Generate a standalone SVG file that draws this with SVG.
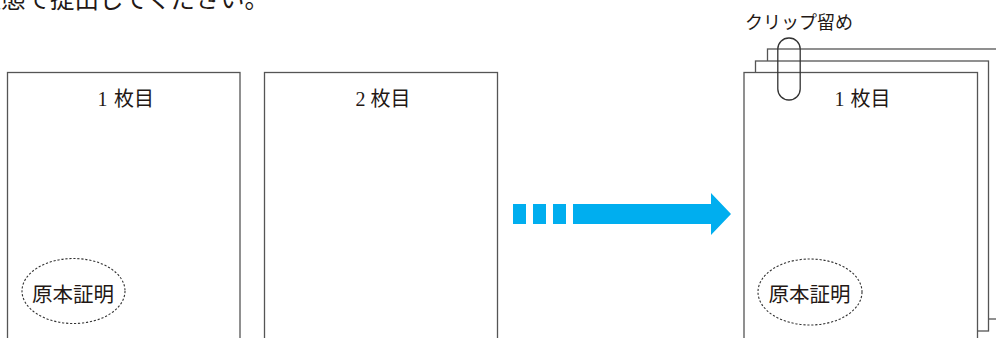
<svg xmlns="http://www.w3.org/2000/svg" width="996" height="338" viewBox="0 0 996 338">
<style>
.page{fill:#fff;stroke:#555;stroke-width:1.3}
.lbl{font-family:"Liberation Serif","Noto Sans CJK JP",serif;font-size:20px;fill:#231815}
.cjk{font-family:"Noto Sans CJK JP",sans-serif}
.stamp{fill:none;stroke:#333;stroke-width:1.1;stroke-dasharray:2.2 1.8}
.stxt{font-family:"Noto Sans CJK JP",sans-serif;font-size:20.5px;fill:#231815}
.arrow{fill:#00AEEF}
</style>
<rect width="996" height="338" fill="#fff"/>
<text x="-23.5" y="8" style="font-family:'Noto Sans CJK JP',sans-serif;font-size:24.5px;fill:#231815">状態で提出してください。</text>

<g id="page1">
<rect class="page" x="7.5" y="72.5" width="232.5" height="270"/>
<text class="lbl" x="97.5" y="106">1<tspan class="cjk" x="114">枚目</tspan></text>
<ellipse class="stamp" cx="73.5" cy="291" rx="51.5" ry="32.5"/>
<text class="stxt" x="32" y="302">原本証明</text>
</g>

<g id="page2">
<rect class="page" x="264.5" y="72.5" width="233" height="270"/>
<text class="lbl" x="355.5" y="106">2<tspan class="cjk" x="370.5">枚目</tspan></text>
</g>

<g id="connectors">
<rect class="arrow" x="513" y="204" width="13" height="20"/>
<rect class="arrow" x="533" y="204" width="13" height="20"/>
<rect class="arrow" x="553" y="204" width="13" height="20"/>
<polygon class="arrow" points="573,204 711,204 711,193 731,214 711,235 711,224 573,224"/>
</g>

<g id="stack">
<rect class="page" x="767.5" y="49" width="233" height="270"/>
<rect class="page" x="755.5" y="61" width="233" height="270"/>
<rect class="page" x="744" y="72.5" width="233.5" height="270"/>
<text class="lbl" x="834.5" y="106">1<tspan class="cjk" x="850.5">枚目</tspan></text>
<ellipse class="stamp" cx="810" cy="292" rx="52" ry="33"/>
<text class="stxt" x="768.5" y="302">原本証明</text>
</g>

<g id="clip">
<rect x="777.8" y="38" width="22.4" height="62" rx="11" ry="11" fill="none" stroke="#333" stroke-width="1.3"/>
<text x="745" y="29" style="font-family:'Noto Sans CJK JP',sans-serif;font-size:18px;fill:#231815">クリップ留め</text>
</g>
</svg>
